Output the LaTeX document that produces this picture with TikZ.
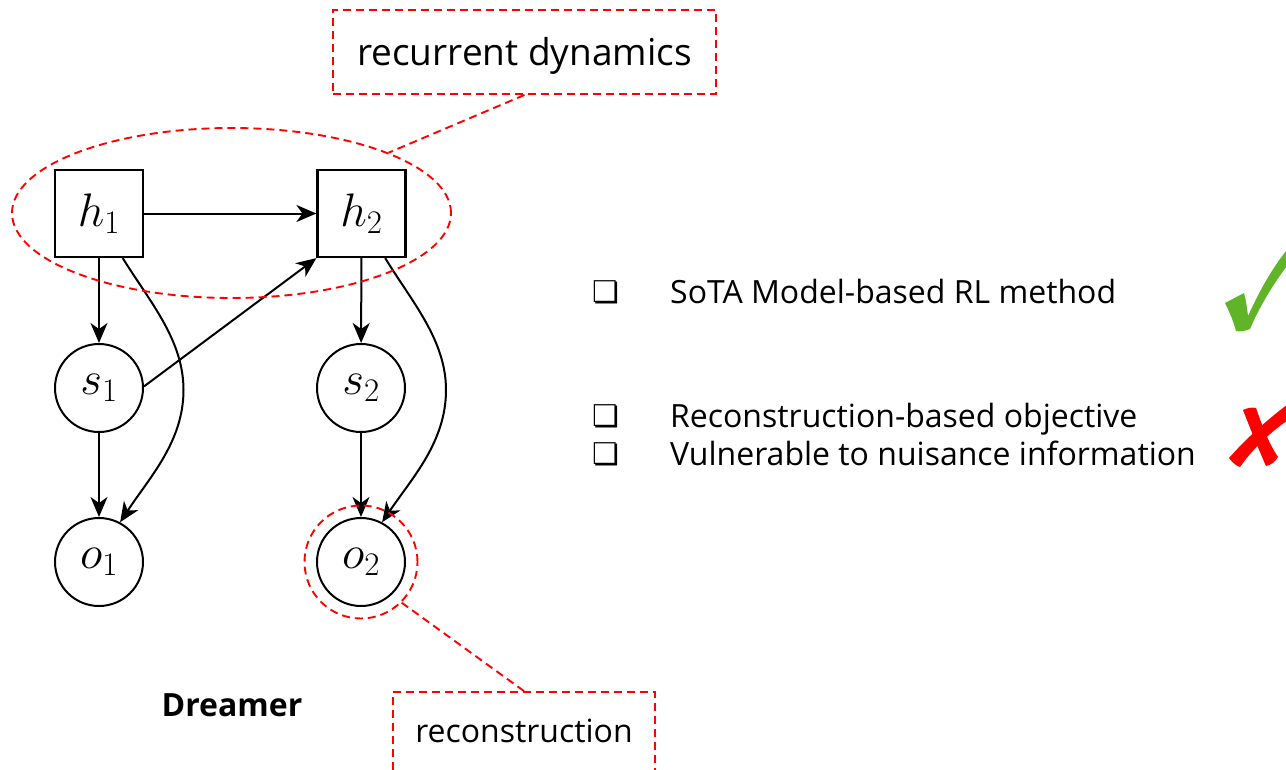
\RequirePackage{fix-cm}
\documentclass[tikz,border=0pt]{standalone}
\usepackage[no-math]{fontspec}
\setmainfont{Open Sans}
\newfontfamily\djv{DejaVu Sans}
\usetikzlibrary{arrows.meta,shapes.geometric}
\definecolor{rd}{RGB}{255,0,0}
\definecolor{ok}{RGB}{96,180,40}
\begin{document}
\begin{tikzpicture}[x=1pt,y=-1pt,
  hbox/.style={draw, line width=2.2pt, minimum width=88pt, minimum height=87pt, inner sep=0pt, font=\fontsize{47}{50}\selectfont},
  var/.style={circle, draw, line width=2pt, minimum size=88pt, inner sep=0pt, font=\fontsize{47}{50}\selectfont},
  arr/.style={-{Stealth[length=20pt,width=17pt,inset=6pt]}, line width=2pt},
  redd/.style={draw=rd, line width=1.9pt, dash pattern=on 8pt off 5pt},
  notebox/.style={redd, rectangle, inner sep=0pt},
  bul/.style={anchor=base west, inner sep=0pt, font=\djv\fontsize{30}{34}\selectfont},
  btxt/.style={anchor=base west, inner sep=0pt, font=\fontsize{32}{38}\selectfont}]
\useasboundingbox (0,0) rectangle (1286,769);
\clip (0,0) rectangle (1286,769);
% graph nodes
\node[hbox] (h1) at (99,213.5) {$h_1$};
\node[hbox] (h2) at (361.5,213.5) {$h_2$};
\node[var] (s1) at (99,388) {$s_1$};
\node[var] (s2) at (361,388) {$s_2$};
\node[var] (o1) at (99,562) {$o_1$};
\node[var] (o2) at (361,562) {$o_2$};
% edges
\draw[arr] (h1) -- (h2);
\draw[arr] (h1) -- (s1);
\draw[arr] (s1) -- (o1);
\draw[arr] (h2) -- (s2);
\draw[arr] (s2) -- (o2);
\draw[arr] (s1.2) -- (h2.south west);
\coordinate (m1) at (183.5,390);
\coordinate (m2) at (446,390);
\draw[arr] (h1.-62) .. controls (150,302) and (183.5,340) .. (m1) .. controls (183.5,442) and (149,478) .. (o1.62);
\draw[arr] (h2.-62) .. controls (412,302) and (446,340) .. (m2) .. controls (446,442) and (412,478) .. (o2.62);
% annotations
\node[ellipse, redd, minimum width=439pt, minimum height=170pt, inner sep=0pt] (rdell) at (231.5,213) {};
\node[circle, redd, minimum size=113pt, inner sep=0pt] (oc) at (361,562) {};
\node[notebox, minimum width=383pt, minimum height=84pt, font=\fontsize{37}{42}\selectfont] (rdbox) at (524.5,52) {\raisebox{-13pt}[0pt][0pt]{recurrent dynamics}};
\node[notebox, minimum width=262pt, minimum height=82pt, font=\fontsize{32}{38}\selectfont] (recbox) at (524,733) {\raisebox{-9pt}[0pt][0pt]{reconstruction}};
\draw[redd] (rdbox.south) -- (rdell.21);
\draw[redd] (recbox.north) -- (oc.-45);
\node[font=\bfseries\fontsize{32}{38}\selectfont, inner sep=0pt] (dreamer) at (232,705) {Dreamer};
% bullet list
\node[bul] (b1) at (592,302) {❏};
\node[btxt] (t1) at (670,303) {SoTA Model-based RL method};
\node[bul] (b2) at (592,426) {❏};
\node[btxt] (t2) at (670,427) {Reconstruction-based objective};
\node[bul] (b3) at (592,464) {❏};
\node[btxt] (t3) at (670,465) {Vulnerable to nuisance information};
% check mark
\fill[ok] (1225,303) -- (1244,293) .. controls (1246,300) and (1247,308) .. (1248,316)
  .. controls (1260,290) and (1272,268) .. (1290,246) -- (1290,262)
  .. controls (1272,285) and (1258,310) .. (1250,329)
  .. controls (1245,331) and (1240,332) .. (1236,331)
  .. controls (1233,320) and (1229,311) .. cycle;
% cross
\fill[rd] (1229,458) .. controls (1245,440) and (1262,424) .. (1288,404) -- (1288,420)
  .. controls (1268,434) and (1252,450) .. (1240,467) .. controls (1236,466) and (1232,462) .. cycle;
\fill[rd] (1243,410) .. controls (1247,408) and (1252,407) .. (1256,408)
  .. controls (1262,425) and (1268,442) .. (1278,457)
  .. controls (1275,462) and (1271,465) .. (1266,466)
  .. controls (1258,448) and (1250,428) .. cycle;
\end{tikzpicture}
\end{document}
